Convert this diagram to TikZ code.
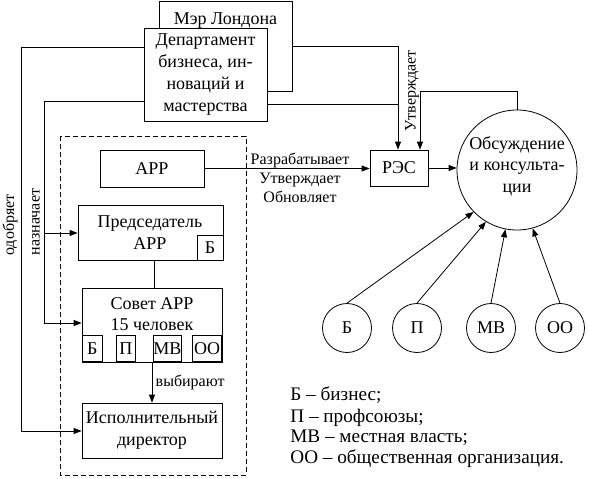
\documentclass[tikz,border=0pt]{standalone}
\usepackage{fontspec}
\setmainfont{Liberation Serif}
\usetikzlibrary{arrows.meta,calc}
\begin{document}
\begin{tikzpicture}[x=1pt,y=-1pt,
  line width=0.8pt,
  bigtxt/.style={font=\fontsize{18}{21.7}\selectfont},
  legtxt/.style={font=\fontsize{19.2}{21}\selectfont},
  smalltxt/.style={font=\fontsize{16}{19}\selectfont},
  box/.style={draw,rectangle,inner sep=0pt,fill=white},
  circ/.style={draw,circle,inner sep=0pt},
  arr/.style={-{Triangle[length=8pt,width=6pt]}},
  dashbox/.style={draw,dash pattern=on 5pt off 3pt}
]
\useasboundingbox (0,0) rectangle (589,479);
% Mayor and department
\node[box,minimum width=133pt,minimum height=90pt] (mayor) at (225.5,46) {};
\node[bigtxt,anchor=base] (mayortxt) at (225.5,24) {Мэр Лондона};
\node[box,bigtxt,align=center,minimum width=123pt,minimum height=93pt] (dept) at (205.5,74.5)
  {Департамент\\бизнеса, ин-\\новаций и\\мастерства};
% RES and circle
\node[box,bigtxt,minimum width=58pt,minimum height=36pt] (res) at (399,168) {РЭС};
\node[circ,minimum size=120pt] (big) at (517,170) {};
\node[bigtxt,align=center] (bigtxt) at (517,166) {Обсуждение\\и консульта-\\ции};
% Dashed group
\draw[dashbox] (60,136) rectangle (246,475);
\node[box,bigtxt,minimum width=104pt,minimum height=37pt] (arr) at (152,168.5) {АРР};
\node[box,minimum width=145pt,minimum height=55pt] (chair) at (150.5,232.5) {};
\node[bigtxt,align=center] (chairtxt) at (150,232.5) {Председатель\\АРР};
\node[box,bigtxt,minimum width=26pt,minimum height=25pt,anchor=south east] (chairb) at (chair.south east) {Б};
\node[box,minimum width=140pt,minimum height=74pt] (council) at (152,325) {};
\node[bigtxt,align=center] (counciltxt) at (152,314) {Совет АРР\\15 человек};
\node[box,bigtxt,minimum width=20pt,minimum height=26pt,anchor=south west] (cb) at (82,362) {Б};
\node[box,bigtxt,minimum width=19pt,minimum height=26pt,anchor=south west] (cp) at (116,362) {П};
\node[box,bigtxt,minimum width=26pt,minimum height=26pt,anchor=south west] (cmv) at (153,362) {МВ};
\node[box,bigtxt,minimum width=29pt,minimum height=26pt,anchor=south east] (coo) at (222,362) {ОО};
\node[box,bigtxt,align=center,minimum width=140pt,minimum height=55pt] (exec) at (152,430.5)
  {Исполнительный\\директор};
% Small circles
\node[circ,bigtxt,minimum size=49pt] (sb) at (347,328) {Б};
\node[circ,bigtxt,minimum size=49pt] (sp) at (417,328) {П};
\node[circ,bigtxt,minimum size=49pt] (smv) at (491,328) {МВ};
\node[circ,bigtxt,minimum size=49pt] (soo) at (560,328) {ОО};
% Legend
\node[legtxt,anchor=base west,inner sep=0pt] (leg1) at (290,400) {Б – бизнес;};
\node[legtxt,anchor=base west,inner sep=0pt] (leg2) at (290,422) {П – профсоюзы;};
\node[legtxt,anchor=base west,inner sep=0pt] (leg3) at (290,442) {МВ – местная власть;};
\node[legtxt,anchor=base west,inner sep=0pt] (leg4) at (290,463) {ОО – общественная организация.};
% Connectors top
\coordinate (j1) at (398,46);
\coordinate (j2) at (398,104);
\draw[arr] (mayor.east |- j1) -- (j1) -- (res.north -| j1);
\draw (dept.east |- j2) -- (j2);
\coordinate (t1) at (517,91);
\coordinate (t2) at (420,91);
\draw[arr] (big.north) -- (t1) -- (t2) -- (res.north -| t2);
\node[smalltxt,rotate=90] (utv) at (412,91) {Утверждает};
\draw[arr] (arr.east) -- (res.west |- arr.east);
\node[smalltxt,align=center] (razr) at (300,178) {Разрабатывает\\Утверждает\\Обновляет};
\draw[arr] (res.east) -- (big.west |- res.east);
% small circle arrows
\draw[arr] (sb.north) -- (big.-136);
\draw[arr] (sp.north) -- (big.-121);
\draw[arr] (smv.north) -- (big.-101);
\draw[arr] (soo.north) -- (big.-75);
% left lines
\coordinate (l1a) at (21,47);
\coordinate (l1b) at (21,431);
\draw[arr] (dept.west |- l1a) -- (l1a) -- (l1b) -- (exec.west |- l1b);
\node[smalltxt,rotate=90] (odob) at (10,225) {одобряет};
\coordinate (l2a) at (44,101);
\coordinate (l2b) at (44,323);
\coordinate (l2c) at (44,233);
\draw[arr] (dept.west |- l2a) -- (l2a) -- (l2b) -- (council.west |- l2b);
\draw[arr] (l2c) -- (chair.west |- l2c);
\node[smalltxt,rotate=90] (nazn) at (36,222) {назначает};
% inner lines
\draw (chair.south -| 154,0) -- (council.north -| 154,0);
\draw[arr] (council.south) -- (exec.north);
\node[smalltxt,anchor=west] (vyb) at (152,382) {выбирают};
\end{tikzpicture}
\end{document}
